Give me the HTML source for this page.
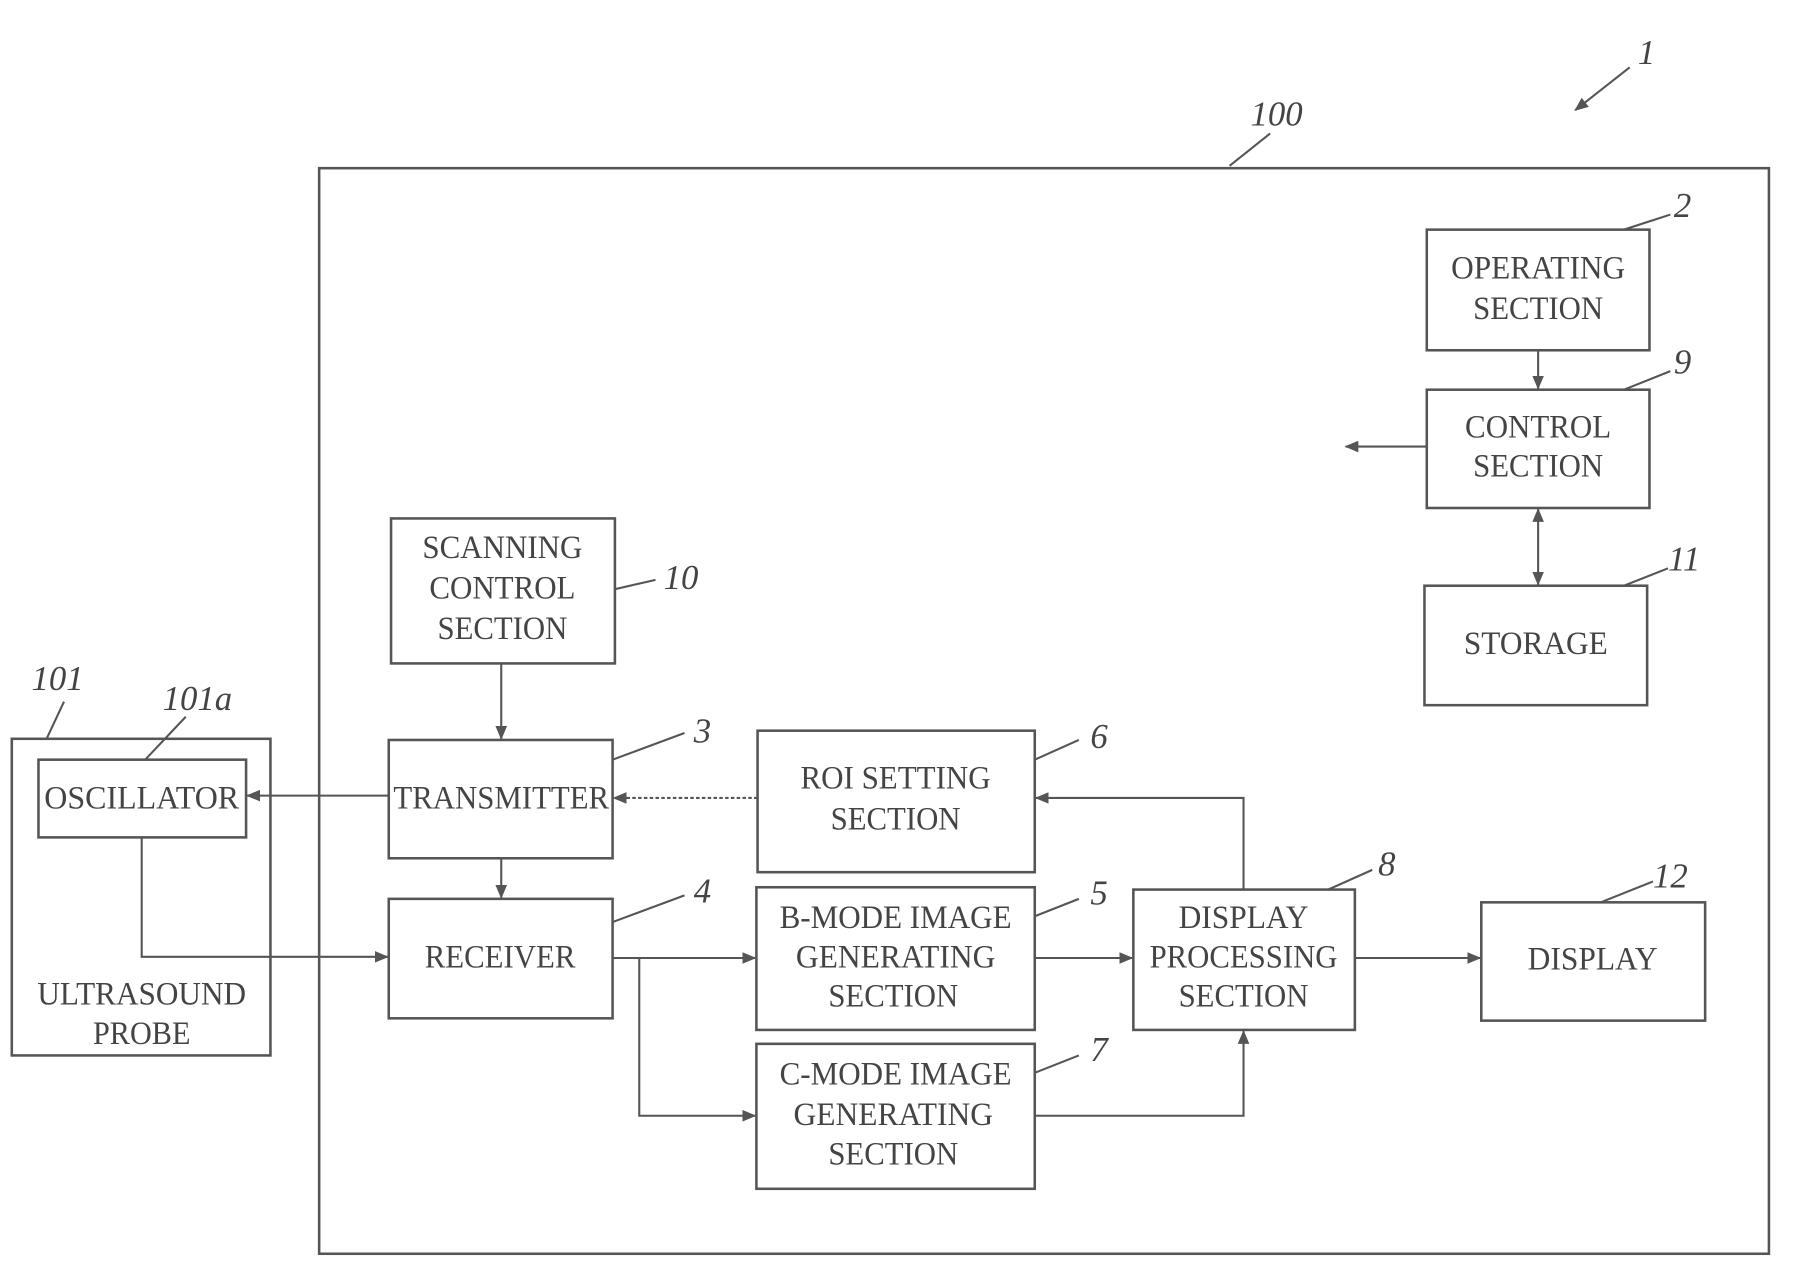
<!DOCTYPE html>
<html><head><meta charset="utf-8"><style>html,body{margin:0;padding:0;background:#fff}svg{display:block}</style></head><body>
<svg width="1819" height="1270" viewBox="0 0 1568 1095" xmlns="http://www.w3.org/2000/svg">
<defs><marker id="a" markerWidth="12" markerHeight="10" refX="11" refY="5" orient="auto" markerUnits="userSpaceOnUse"><path d="M0,0 L12,5 L0,10 Z" fill="#555"/></marker>
<marker id="b" markerWidth="12" markerHeight="10" refX="1" refY="5" orient="auto" markerUnits="userSpaceOnUse"><path d="M12,0 L0,5 L12,10 Z" fill="#555"/></marker></defs>
<g fill="none" stroke="#555" stroke-width="2.2">
<rect x="275" y="145" width="1250" height="936"/>
<rect x="1230" y="198" width="192" height="104"/>
<rect x="1230" y="336" width="192" height="102"/>
<rect x="1228" y="505" width="192" height="103"/>
<rect x="337" y="447" width="193" height="125"/>
<rect x="335" y="638" width="193" height="102"/>
<rect x="335" y="775" width="193" height="103"/>
<rect x="653" y="630" width="239" height="122"/>
<rect x="652" y="765" width="240" height="123"/>
<rect x="652" y="900" width="240" height="125"/>
<rect x="977" y="767" width="191" height="121"/>
<rect x="1277" y="778" width="193" height="102"/>
<rect x="10" y="637" width="223" height="273"/>
<rect x="33" y="655" width="179" height="67"/>
</g>
<g fill="none" stroke="#555" stroke-width="1.8">
<line x1="1326" y1="302" x2="1326" y2="335" marker-end="url(#a)"/>
<line x1="1326" y1="439" x2="1326" y2="504" marker-end="url(#a)" marker-start="url(#b)"/>
<line x1="1230" y1="385" x2="1160" y2="385" marker-end="url(#a)"/>
<line x1="432" y1="572" x2="432" y2="637" marker-end="url(#a)"/>
<line x1="432" y1="740" x2="432" y2="774" marker-end="url(#a)"/>
<line x1="335" y1="686" x2="213" y2="686" marker-end="url(#a)"/>
<line x1="653" y1="688" x2="529" y2="688" stroke-dasharray="3,2" marker-end="url(#a)"/>
<polyline points="122,722 122,825 334,825" marker-end="url(#a)"/>
<line x1="528" y1="826" x2="651" y2="826" marker-end="url(#a)"/>
<polyline points="551,826 551,962 651,962" marker-end="url(#a)"/>
<line x1="892" y1="826" x2="976" y2="826" marker-end="url(#a)"/>
<polyline points="892,962 1072,962 1072,889" marker-end="url(#a)"/>
<polyline points="1072,767 1072,688 893,688" marker-end="url(#a)"/>
<line x1="1168" y1="826" x2="1276" y2="826" marker-end="url(#a)"/>
<line x1="1358" y1="95" x2="1405" y2="58" marker-start="url(#b)"/>
<line x1="1060" y1="143" x2="1095" y2="115"/>
<line x1="1400" y1="198" x2="1440" y2="185"/>
<line x1="1400" y1="336" x2="1440" y2="320"/>
<line x1="1400" y1="505" x2="1438" y2="490"/>
<line x1="530" y1="508" x2="565" y2="500"/>
<line x1="528" y1="655" x2="590" y2="632"/>
<line x1="528" y1="795" x2="590" y2="772"/>
<line x1="892" y1="655" x2="930" y2="638"/>
<line x1="892" y1="790" x2="930" y2="775"/>
<line x1="892" y1="925" x2="930" y2="910"/>
<line x1="1145" y1="767" x2="1183" y2="750"/>
<line x1="1380" y1="778" x2="1425" y2="760"/>
<line x1="40" y1="637" x2="55" y2="605"/>
<line x1="125" y1="655" x2="160" y2="618"/>
</g>
<g font-family="Liberation Serif, serif" font-size="28" fill="#444" text-anchor="middle">
<text x="1326" y="240" textLength="150" lengthAdjust="spacingAndGlyphs">OPERATING</text>
<text x="1326" y="275" textLength="112" lengthAdjust="spacingAndGlyphs">SECTION</text>
<text x="1326" y="377" textLength="126" lengthAdjust="spacingAndGlyphs">CONTROL</text>
<text x="1326" y="411" textLength="112" lengthAdjust="spacingAndGlyphs">SECTION</text>
<text x="1324" y="564" textLength="124" lengthAdjust="spacingAndGlyphs">STORAGE</text>
<text x="433" y="481" textLength="138" lengthAdjust="spacingAndGlyphs">SCANNING</text>
<text x="433" y="516" textLength="126" lengthAdjust="spacingAndGlyphs">CONTROL</text>
<text x="433" y="551" textLength="112" lengthAdjust="spacingAndGlyphs">SECTION</text>
<text x="432" y="697" textLength="186" lengthAdjust="spacingAndGlyphs">TRANSMITTER</text>
<text x="431" y="834" textLength="130" lengthAdjust="spacingAndGlyphs">RECEIVER</text>
<text x="772" y="680" textLength="164" lengthAdjust="spacingAndGlyphs">ROI SETTING</text>
<text x="772" y="715" textLength="112" lengthAdjust="spacingAndGlyphs">SECTION</text>
<text x="772" y="800" textLength="200" lengthAdjust="spacingAndGlyphs">B-MODE IMAGE</text>
<text x="772" y="834" textLength="172" lengthAdjust="spacingAndGlyphs">GENERATING</text>
<text x="770" y="868" textLength="112" lengthAdjust="spacingAndGlyphs">SECTION</text>
<text x="772" y="935" textLength="200" lengthAdjust="spacingAndGlyphs">C-MODE IMAGE</text>
<text x="770" y="970" textLength="172" lengthAdjust="spacingAndGlyphs">GENERATING</text>
<text x="770" y="1004" textLength="112" lengthAdjust="spacingAndGlyphs">SECTION</text>
<text x="1072" y="800" textLength="112" lengthAdjust="spacingAndGlyphs">DISPLAY</text>
<text x="1072" y="834" textLength="162" lengthAdjust="spacingAndGlyphs">PROCESSING</text>
<text x="1072" y="868" textLength="112" lengthAdjust="spacingAndGlyphs">SECTION</text>
<text x="1373" y="836" textLength="112" lengthAdjust="spacingAndGlyphs">DISPLAY</text>
<text x="122" y="697" textLength="168" lengthAdjust="spacingAndGlyphs">OSCILLATOR</text>
<text x="122" y="866" textLength="180" lengthAdjust="spacingAndGlyphs">ULTRASOUND</text>
<text x="122" y="900" textLength="84" lengthAdjust="spacingAndGlyphs">PROBE</text>
</g>
<g font-family="Liberation Serif, serif" font-size="30" font-style="italic" fill="#444">
<text x="1412" y="55">1</text>
<text x="1078" y="108">100</text>
<text x="1443" y="187">2</text>
<text x="1443" y="322">9</text>
<text x="1438" y="492">11</text>
<text x="572" y="508">10</text>
<text x="598" y="640">3</text>
<text x="598" y="778">4</text>
<text x="940" y="645">6</text>
<text x="940" y="780">5</text>
<text x="940" y="915">7</text>
<text x="1188" y="755">8</text>
<text x="1425" y="765">12</text>
<text x="27" y="595">101</text>
<text x="140" y="612">101a</text>
</g>
</svg>
</body></html>
